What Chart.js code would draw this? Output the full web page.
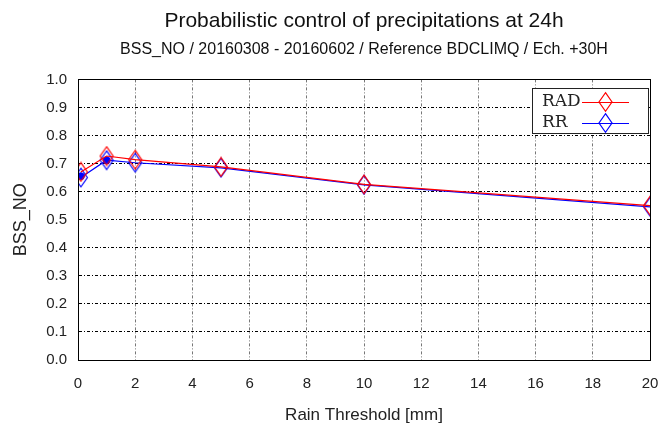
<!DOCTYPE html>
<html>
<head>
<meta charset="utf-8">
<script src="https://cdn.jsdelivr.net/npm/chart.js@4/dist/chart.umd.min.js"></script>
<style>
  html, body { margin: 0; padding: 0; background: #fff; }
  #wrap { width: 662px; height: 434px; }
</style>
</head>
<body>
<div id="wrap"><canvas id="myChart" width="662" height="434"></canvas></div>
<script>
// thresholds (mm)
var thresholds = [0.1, 1, 2, 5, 10, 20];
var radValues = [0.670, 0.727, 0.714, 0.688, 0.626, 0.550];
var rrValues = [0.650, 0.712, 0.703, 0.685, 0.624, 0.546];
// filled dots drawn on top of the RR markers
var dotX = [0.1, 1];
var dotValues = [0.655, 0.712];
var seriesNames = ['RAD', 'RR'];
var seriesColors = ['#ff0000', '#0000ff'];

function toPoints(xs, ys) {
    var pts = [];
    for (var i = 0; i < xs.length; i++) {
        pts.push({ x: xs[i], y: ys[i] });
    }
    return pts;
}

// gnuplot style diamond, a bit taller than wide
function diamondPath(c, cx, cy, hw, hh) {
    c.beginPath();
    c.moveTo(cx, cy - hh);
    c.lineTo(cx + hw, cy);
    c.lineTo(cx, cy + hh);
    c.lineTo(cx - hw, cy);
    c.closePath();
}

function makeDiamond(color) {
    var cv = document.createElement('canvas');
    cv.width = 16;
    cv.height = 21;
    var c = cv.getContext('2d');
    c.strokeStyle = color;
    c.lineWidth = 1.2;
    diamondPath(c, 8, 10.5, 6.5, 9.3);
    c.stroke();
    return cv;
}

var markers = [makeDiamond(seriesColors[0]), makeDiamond(seriesColors[1])];

// legend box in the upper right corner + frame around the plot
var framePlugin = {
    id: 'frame',
    afterDatasetsDraw: function (chart) {
        var ctx = chart.ctx;
        var a = chart.chartArea;
        ctx.save();
        ctx.strokeStyle = '#000';
        ctx.lineWidth = 1;
        ctx.setLineDash([]);
        ctx.strokeRect(Math.round(a.left) + 0.5, Math.round(a.top) + 0.5,
            Math.round(a.right - a.left), Math.round(a.bottom - a.top));

        var bx = Math.round(a.right) - 118, by = Math.round(a.top) + 9, bw = 116, bh = 45;
        ctx.fillStyle = '#fff';
        ctx.fillRect(bx, by, bw, bh);
        ctx.strokeStyle = '#222';
        ctx.strokeRect(bx + 0.5, by + 0.5, bw, bh);
        ctx.font = '17px "DejaVu Serif", serif';
        ctx.textBaseline = 'middle';
        for (var i = 0; i < seriesNames.length; i++) {
            var yy = by + 14 + i * 21;
            ctx.fillStyle = '#222';
            ctx.fillText(seriesNames[i], bx + 10, yy);
            ctx.strokeStyle = seriesColors[i];
            ctx.lineWidth = 1.2;
            ctx.beginPath();
            ctx.moveTo(bx + 50, yy + 0.5);
            ctx.lineTo(bx + 97, yy + 0.5);
            ctx.stroke();
            diamondPath(ctx, bx + 73.5, yy, 6.5, 9.3);
            ctx.stroke();
        }
        ctx.restore();
    }
};

var ctx = document.getElementById('myChart').getContext('2d');
new Chart(ctx, {
    type: 'line',
    data: {
        datasets: [
            {
                label: seriesNames[0],
                data: toPoints(thresholds, radValues),
                borderColor: seriesColors[0],
                backgroundColor: 'rgba(0,0,0,0)',
                borderWidth: 1.2,
                pointStyle: markers[0],
                tension: 0
            },
            {
                label: seriesNames[1],
                data: toPoints(thresholds, rrValues),
                borderColor: seriesColors[1],
                backgroundColor: 'rgba(0,0,0,0)',
                borderWidth: 1.2,
                pointStyle: markers[1],
                tension: 0
            },
            {
                label: 'dots',
                data: toPoints(dotX, dotValues),
                showLine: false,
                pointStyle: 'circle',
                pointRadius: 3.5,
                pointBackgroundColor: '#0000ff',
                pointBorderColor: '#0000ff',
                borderColor: '#0000ff'
            }
        ]
    },
    options: {
        responsive: false,
        animation: false,
        layout: { padding: { left: 0, right: 12, top: 0, bottom: 0 } },
        plugins: {
            legend: { display: false },
            tooltip: { enabled: false },
            title: {
                display: true,
                text: 'Probabilistic control of precipitations at 24h',
                fullSize: false,
                color: '#111',
                font: { family: '"Liberation Sans", Arial, sans-serif', size: 21, weight: 'normal' },
                padding: { top: 9, bottom: 3 }
            },
            subtitle: {
                display: true,
                text: 'BSS_NO / 20160308 - 20160602 / Reference BDCLIMQ / Ech. +30H',
                fullSize: false,
                color: '#111',
                font: { family: '"Liberation Sans", Arial, sans-serif', size: 16 },
                padding: { top: 3, bottom: 20 }
            }
        },
        scales: {
            x: {
                type: 'linear',
                min: 0,
                max: 20,
                ticks: {
                    stepSize: 2,
                    color: '#222',
                    padding: 15,
                    font: { family: '"Liberation Sans", Arial, sans-serif', size: 15 }
                },
                grid: {
                    color: '#777',
                    lineWidth: 1,
                    tickLength: 0,
                    drawTicks: false
                },
                border: { display: true, color: '#000', dash: [3, 2, 1, 2] },
                title: {
                    display: true,
                    text: 'Rain Threshold [mm]',
                    color: '#222',
                    font: { family: '"Liberation Sans", Arial, sans-serif', size: 17 },
                    padding: { top: 8, bottom: 8 }
                },
                afterFit: function (s) {
                    s.height = 74;
                    s.paddingLeft = 0;
                    s.paddingRight = 0;
                }
            },
            y: {
                min: 0,
                max: 1,
                ticks: {
                    stepSize: 0.1,
                    color: '#222',
                    padding: 11,
                    font: { family: '"Liberation Sans", Arial, sans-serif', size: 15 },
                    callback: function (v) { return v.toFixed(1); }
                },
                grid: {
                    color: '#000',
                    lineWidth: 1,
                    drawTicks: false
                },
                border: { display: true, color: '#000', dash: [3, 2, 1, 2] },
                title: {
                    display: true,
                    text: 'BSS_NO',
                    color: '#222',
                    font: { family: '"Liberation Sans", Arial, sans-serif', size: 18 },
                    padding: { top: 10, bottom: 4 }
                },
                afterFit: function (s) { s.width = 78; }
            }
        }
    },
    plugins: [framePlugin]
});
</script>
</body>
</html>
